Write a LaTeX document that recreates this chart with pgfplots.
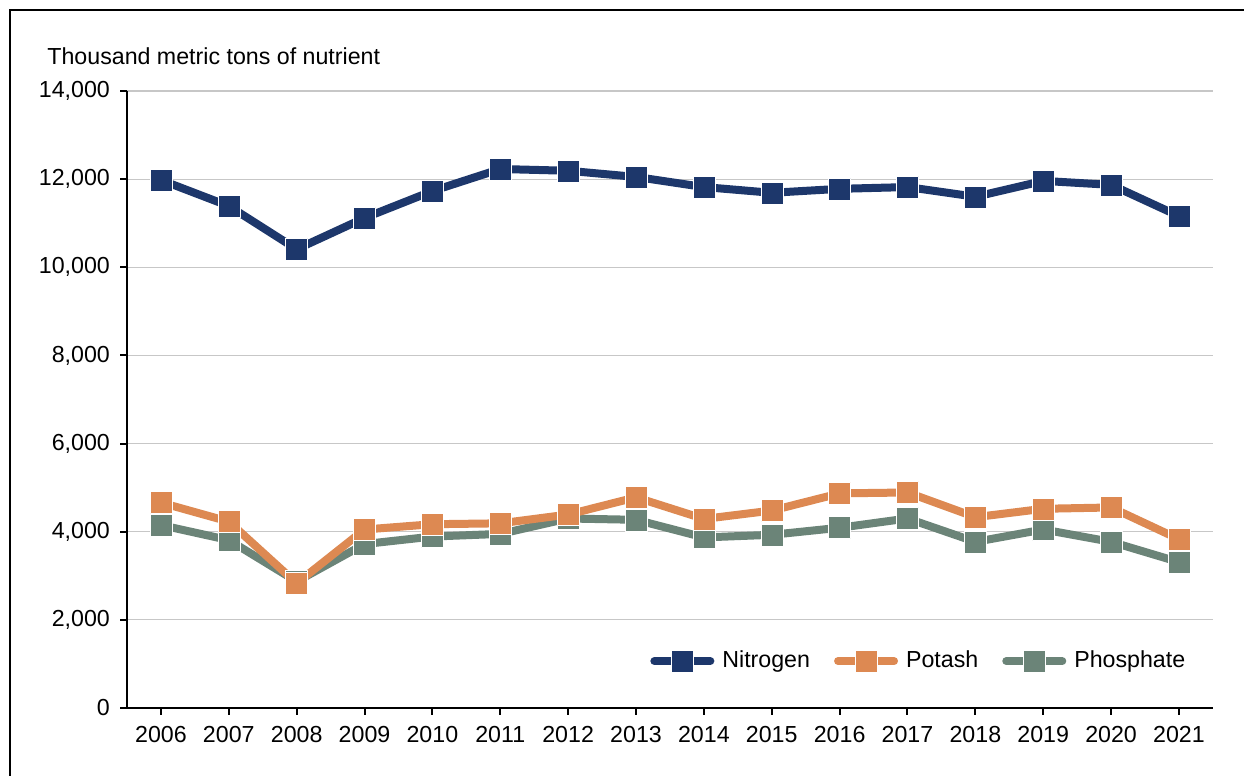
\documentclass[border=0pt]{standalone}
\usepackage{fontspec}
\setmainfont{Liberation Sans}
\usepackage{pgfplots}
\pgfplotsset{compat=1.18}
\definecolor{nitro}{HTML}{1D376B}
\definecolor{potash}{HTML}{DD8952}
\definecolor{phos}{HTML}{6B8478}

\pgfplotsset{
  nstyle/.style={color=nitro, line width=4pt, line join=round, mark=square*,
    mark size=5.5pt, mark options={solid, draw=white, line width=0.25pt, fill=nitro}},
  kstyle/.style={color=potash, line width=4pt, line join=round, mark=square*,
    mark size=5.5pt, mark options={solid, draw=white, line width=0.25pt, fill=potash}},
  pstyle/.style={color=phos, line width=4pt, line join=round, mark=square*,
    mark size=5.5pt, mark options={solid, draw=white, line width=0.25pt, fill=phos}},
}

\begin{document}
\fontsize{11.6}{14}\selectfont
\begin{tikzpicture}
\path[use as bounding box] (0,0) rectangle (622pt,388pt);
\draw[line width=1.4pt] (5pt,-20pt) -- (5pt,383pt) -- (650pt,383pt);
\begin{axis}[
  at={(63.5pt,34pt)}, anchor=south west,
  scale only axis, width=543pt, height=308.5pt,
  xmin=2005.5, xmax=2021.5, ymin=0, ymax=14000,
  xtick={2006,2007,...,2021},
  ytick={0,2000,...,14000},
  scaled ticks=false,
  axis x line=bottom, axis y line=left,
  axis line style={-, line width=1.1pt, black},
  tick style={black, line width=1pt},
  major tick length=3.5pt, tick align=outside,
  ymajorgrids, grid style={black!22, line width=0.6pt},
  /pgf/number format/assume math mode=true,
  xticklabel style={/pgf/number format/1000 sep={}, yshift=-1.5pt},
  yticklabel style={/pgf/number format/fixed, /pgf/number format/precision=0,
    /pgf/number format/1000 sep={,}, xshift=-1pt},
  legend columns=3,
  legend cell align=left,
  legend style={draw=none, fill=none, anchor=east, at={(0.984,0.076)},
    /tikz/every even column/.append style={column sep=10pt},
    /tikz/every odd column/.append style={column sep=2pt}},
  legend image code/.code={\draw[mark repeat=2, mark phase=2, line cap=round, #1]
    plot coordinates {(0pt,0pt) (14pt,0pt) (28pt,0pt)};},
]
\addlegendimage{nstyle}\addlegendentry{Nitrogen}
\addlegendimage{kstyle}\addlegendentry{Potash}
\addlegendimage{pstyle}\addlegendentry{Phosphate}

% phosphate
\addplot[pstyle, forget plot] coordinates {
  (2006,4150) (2007,3810) (2008,2870) (2009,3720) (2010,3890) (2011,3950)
  (2012,4300) (2013,4270) (2014,3870) (2015,3930) (2016,4090) (2017,4300)
  (2018,3770) (2019,4050) (2020,3770) (2021,3310)};
% potash
\addplot[kstyle, forget plot] coordinates {
  (2006,4660) (2007,4230) (2008,2830) (2009,4050) (2010,4170) (2011,4190)
  (2012,4390) (2013,4780) (2014,4290) (2015,4480) (2016,4870) (2017,4890)
  (2018,4330) (2019,4520) (2020,4550) (2021,3830)};
% nitrogen
\addplot[nstyle, forget plot] coordinates {
  (2006,11980) (2007,11390) (2008,10410) (2009,11120) (2010,11730) (2011,12230)
  (2012,12190) (2013,12050) (2014,11820) (2015,11690) (2016,11780) (2017,11820)
  (2018,11600) (2019,11960) (2020,11870) (2021,11160)};
\end{axis}
\node[anchor=base west, inner sep=0pt] at (23.5pt,355.5pt) {Thousand metric tons of nutrient};
\end{tikzpicture}
\end{document}
